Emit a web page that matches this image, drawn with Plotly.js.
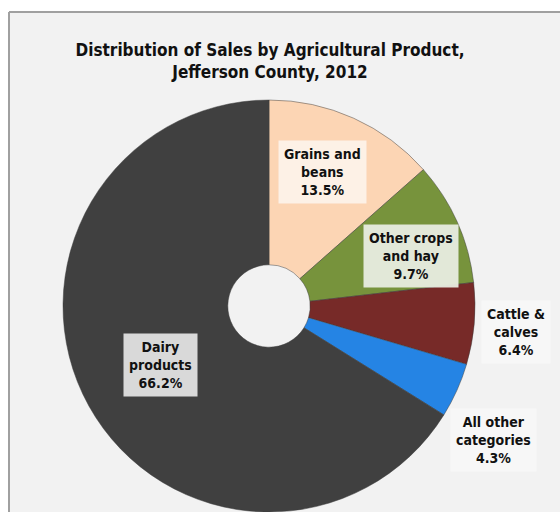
<!DOCTYPE html>
<html>
<head>
<meta charset="utf-8">
<script src="https://cdn.plot.ly/plotly-3.0.1.min.js"></script>
<style>html,body{margin:0;padding:0;background:#fff;overflow:hidden;}#chart{width:560px;height:512px;}</style>
</head>
<body>
<div id="chart"></div>
<script>
// Data
const categories = ['Grains and beans', 'Other crops and hay', 'Cattle & calves', 'All other categories', 'Dairy products'];
const displayLabels = ['Grains and<br>beans', 'Other crops<br>and hay', 'Cattle &<br>calves', 'All other<br>categories', 'Dairy<br>products'];
const shares = [13.5, 9.7, 6.4, 4.3, 66.2];

// Styles / positions
const colors = ['#fcd5b4', '#77933c', '#772a28', '#2584e4', '#404040'];
const labelBg = ['rgba(253,243,234,0.92)', 'rgba(232,236,224,0.95)', 'rgba(247,247,247,1)', 'rgba(247,247,247,1)', 'rgba(217,217,217,1)'];
const labelPos = [[322, 172], [411, 256], [516, 332], [493, 440], [160, 365]];

const W = 560, H = 512;
const cx = 269, cy = 306, R = 206;
const FONT = '"Liberation Sans Narrow", "DejaVu Sans Condensed", "Liberation Sans", sans-serif';

const trace = {
  type: 'pie',
  labels: categories,
  values: shares,
  sort: false,
  direction: 'clockwise',
  rotation: 0,
  hole: 0.2,
  textinfo: 'none',
  hoverinfo: 'label+percent',
  showlegend: false,
  marker: { colors: colors, line: { color: 'rgba(60,60,60,0.6)', width: 0.8 } },
  domain: { x: [(cx - R) / W, (cx + R) / W], y: [Math.max(0, (H - cy - R) / H), (H - cy + R) / H] }
};

const annotations = categories.map((c, i) => ({
  xref: 'paper', yref: 'paper',
  x: labelPos[i][0] / W, y: 1 - labelPos[i][1] / H,
  xanchor: 'center', yanchor: 'middle',
  showarrow: false,
  text: '<b>' + displayLabels[i] + '<br>' + shares[i].toFixed(1) + '%</b>',
  font: { family: FONT, size: 14, color: '#111' },
  bgcolor: labelBg[i],
  borderpad: 5,
  align: 'center'
}));

const panelLeft = 9 / W, panelTop = 1 - 12 / H;
const layout = {
  width: W, height: H,
  margin: { l: 0, r: 0, t: 0, b: 0 },
  paper_bgcolor: '#ffffff',
  title: {
    text: '<b>Distribution of Sales by Agricultural Product,<br>Jefferson County, 2012</b>',
    font: { family: FONT, size: 17, color: '#111' },
    x: 270 / W, xanchor: 'center',
    y: 1 - 56 / H, yanchor: 'middle'
  },
  shapes: [
    { type: 'rect', xref: 'paper', yref: 'paper', layer: 'below',
      x0: panelLeft, x1: 1, y0: 0, y1: panelTop,
      fillcolor: '#f2f2f2', line: { width: 0 } },
    { type: 'line', xref: 'paper', yref: 'paper', layer: 'below',
      x0: panelLeft, x1: 1, y0: panelTop, y1: panelTop,
      line: { color: '#a0a0a0', width: 2 } },
    { type: 'line', xref: 'paper', yref: 'paper', layer: 'below',
      x0: panelLeft, x1: panelLeft, y0: 0, y1: panelTop,
      line: { color: '#a0a0a0', width: 2 } }
  ],
  annotations: annotations
};

Plotly.newPlot('chart', [trace], layout, { displayModeBar: false, staticPlot: true });
</script>
</body>
</html>
